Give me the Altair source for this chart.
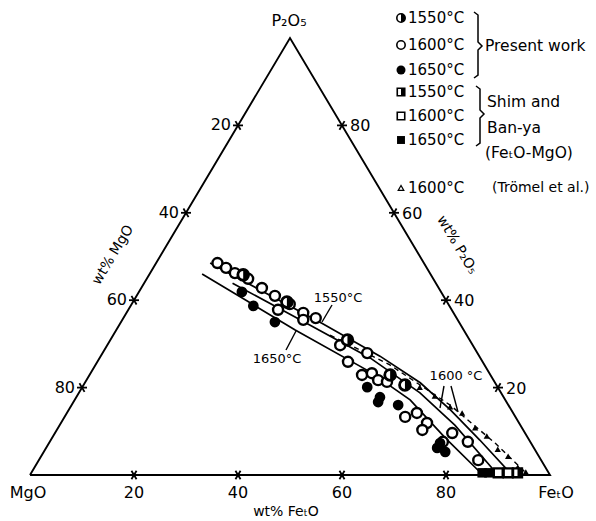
import altair as alt
import pandas as pd

# ---------------- data (wt%) ----------------
# boundary curves: wt% FetO and wt% P2O5
c1550_feo = [10.4, 39.0, 53.7, 64.5, 73.4, 82.5, 92.7]
c1550_p = [48.5, 34.6, 27.2, 21.1, 14.9, 8.0, 0.0]
c1600_feo = [17.0, 34.2, 52.0, 65.6, 76.0, 90.0]
c1600_p = [43.9, 35.5, 26.8, 18.8, 11.4, 0.0]
c1650_feo = [10.1, 34.4, 53.6, 64.5, 75.6, 87.1]
c1650_p = [46.0, 33.2, 23.6, 17.2, 8.5, 0.0]
trom_feo = [41.7, 56.6, 72.8, 85.8, 95.8]
trom_p = [32.0, 25.2, 16.0, 7.3, 0.0]

# present work
pw1550_feo = [18.1, 29.6, 45.6, 57.8, 61.8]
pw1550_p = [45.8, 39.6, 30.9, 22.9, 20.6]
pw1600_feo = [11.8, 14.0, 16.3, 19.5, 23.2, 26.6, 30.4, 34.0, 37.0, 28.8, 34.8, 44.8, 48.2,
              50.9, 52.4, 54.1, 56.1, 58.0, 65.5, 67.3, 70.4, 70.3, 75.6, 76.4, 80.4, 84.5]
pw1600_p = [48.5, 47.4, 46.2, 44.9, 42.8, 41.0, 39.1, 37.1, 35.9, 37.8, 35.5, 29.7, 25.9,
            27.9, 22.9, 23.3, 21.7, 21.3, 13.3, 14.2, 11.9, 10.3, 7.6, 9.6, 7.6, 3.4]
pw1650_feo = [23.6, 29.6, 19.8, 54.8, 58.4, 62.8, 75.2, 77.2, 75.2, 58.6]
pw1650_p = [38.7, 35.0, 41.9, 20.1, 17.8, 16.0, 7.3, 5.3, 6.2, 16.7]

# Shim and Ban-ya (FetO-MgO side)
sb1550_feo = [93.5]
sb1550_p = [0.5]
sb1600_feo = [89.8, 91.7]
sb1600_p = [0.5, 0.5]
sb1650_feo = [86.7, 88.0]
sb1650_p = [0.5, 0.5]

# Trömel et al. 1600 °C
tr_feo = [64.9, 68.8, 73.0, 76.0, 80.2, 83.4, 87.0, 89.8, 92.9, 95.0]
tr_p = [20.1, 18.1, 15.6, 14.2, 10.8, 8.9, 5.9, 4.3, 1.8, 0.7]

tick_values = [20, 40, 60, 80]
legend_labels = ["1550°C", "1600°C", "1650°C", "1550°C", "1600°C", "1650°C", "1600°C"]
legend_kinds = ["half_circle", "open_circle", "filled_circle",
                "half_square", "open_square", "filled_square", "open_triangle"]

# ---------------- geometry helpers ----------------
W, H = 596, 521
OX, OY = 30.0, 475.0        # MgO corner in pixels
SX, SY = 5.2, 4.37           # pixels per wt% (horizontal, vertical)
FONT = "DejaVu Sans"

XS = alt.Scale(domain=[-OX / SX, (W - OX) / SX], nice=False, zero=False)
YS = alt.Scale(domain=[(OY - H) / SY, OY / SY], nice=False, zero=False)


def cart(feo, p):
    return feo + p / 2.0, p


def inv(px, py):
    return (px - OX) / SX, (OY - py) / SY


def enc(extra=None):
    e = dict(x=alt.X("X:Q", scale=XS, axis=None), y=alt.Y("Y:Q", scale=YS, axis=None))
    if extra:
        e.update(extra)
    return e


def pts(feo, p):
    xs, ys = zip(*[cart(f, q) for f, q in zip(feo, p)])
    return pd.DataFrame({"X": xs, "Y": ys})


RIGHT_HALF_CIRCLE = "M0,-1 A1,1 0 0 1 0,1 Z"
RIGHT_HALF_SQUARE = "M0,-1 L1,-1 L1,1 L0,1 Z"


def symbol_layers(df, kind, size, sw):
    base = alt.Chart(df)
    layers = []
    if kind in ("open_circle", "half_circle"):
        layers.append(base.mark_point(shape="circle", filled=True, fill="white", stroke="black",
                                      strokeWidth=sw, size=size, opacity=1).encode(**enc()))
    if kind == "half_circle":
        layers.append(base.mark_point(shape=RIGHT_HALF_CIRCLE, filled=True, color="black",
                                      size=size, opacity=1).encode(**enc()))
    if kind == "filled_circle":
        layers.append(base.mark_point(shape="circle", filled=True, color="black",
                                      size=size * 1.15, opacity=1).encode(**enc()))
    if kind in ("open_square", "half_square"):
        layers.append(base.mark_point(shape="square", filled=True, fill="white", stroke="black",
                                      strokeWidth=sw, size=size * 0.8, opacity=1).encode(**enc()))
    if kind == "half_square":
        layers.append(base.mark_point(shape=RIGHT_HALF_SQUARE, filled=True, color="black",
                                      size=size * 0.8, opacity=1).encode(**enc()))
    if kind == "filled_square":
        layers.append(base.mark_point(shape="square", filled=True, color="black",
                                      size=size * 0.9, opacity=1).encode(**enc()))
    if kind == "open_triangle":
        layers.append(base.mark_point(shape="triangle-up", filled=True, fill="white", stroke="black",
                                      strokeWidth=1.2, size=size * 0.45, opacity=1).encode(**enc()))
    if kind == "filled_triangle":
        layers.append(base.mark_point(shape="triangle-up", filled=True, color="black",
                                      size=size, opacity=1).encode(**enc()))
    return layers


layers = []

# ---------------- triangle frame ----------------
frame_feo = [0, 100, 0, 0]
frame_p = [0, 0, 100, 0]
fdf = pts(frame_feo, frame_p)
fdf["o"] = range(len(fdf))
layers.append(alt.Chart(fdf).mark_line(color="black", strokeWidth=1.9).encode(
    **enc({"order": alt.Order("o:Q")})))

# ---------------- ticks ----------------
def dir_px(dx, dy, length):
    pl = ((dx * SX) ** 2 + (dy * SY) ** 2) ** 0.5
    return dx * length / pl, dy * length / pl

d_left = dir_px(50, 100, 5)    # parallel to MgO-P2O5 side
d_right = dir_px(50, -100, 5)  # parallel to P2O5-FetO side
d_hor = dir_px(1, 0, 5)        # parallel to base

rows = []
for v in tick_values:
    x, y = cart(v, 0)
    for d in (d_left, d_right):
        rows.append((x - d[0], y - d[1], x + d[0], y + d[1]))
    x, y = cart(0, 100 - v)
    for d in (d_hor, d_right):
        rows.append((x - d[0], y - d[1], x + d[0], y + d[1]))
    x, y = cart(100 - v, v)
    for d in (d_hor, d_left):
        rows.append((x - d[0], y - d[1], x + d[0], y + d[1]))
tdf = pd.DataFrame(rows, columns=["X", "Y", "X2", "Y2"])
layers.append(alt.Chart(tdf).mark_rule(color="black", strokeWidth=1.8).encode(
    **enc({"x2": "X2:Q", "y2": "Y2:Q"})))

# ---------------- curves ----------------
for feo, p, dash in [(c1550_feo, c1550_p, None), (c1600_feo, c1600_p, None),
                     (c1650_feo, c1650_p, None), (trom_feo, trom_p, [5, 4])]:
    cdf = pts(feo, p)
    cdf["o"] = range(len(cdf))
    kw = dict(color="black", strokeWidth=1.7)
    if dash:
        kw["strokeDash"] = dash
        kw["strokeWidth"] = 1.4
    layers.append(alt.Chart(cdf).mark_line(**kw).encode(**enc({"order": alt.Order("o:Q")})))

# leader lines for curve labels (pixel anchored annotations)
leaders_px = [(332, 305, 322, 322), (286, 350, 296, 331),
              (444, 386, 440, 408), (451, 386, 458, 412)]
lrows = []
for a, b, c, d in leaders_px:
    x1, y1 = inv(a, b)
    x2, y2 = inv(c, d)
    lrows.append((x1, y1, x2, y2))
ldf = pd.DataFrame(lrows, columns=["X", "Y", "X2", "Y2"])
layers.append(alt.Chart(ldf).mark_rule(color="black", strokeWidth=1.4).encode(
    **enc({"x2": "X2:Q", "y2": "Y2:Q"})))

# ---------------- data points ----------------
layers += symbol_layers(pts(tr_feo, tr_p), "filled_triangle", 40, 1.5)
layers += symbol_layers(pts(pw1600_feo, pw1600_p), "open_circle", 100, 2.4)
layers += symbol_layers(pts(pw1550_feo, pw1550_p), "half_circle", 115, 2.8)
layers += symbol_layers(pts(pw1650_feo, pw1650_p), "filled_circle", 100, 2.0)
layers += symbol_layers(pts(sb1600_feo, sb1600_p), "open_square", 100, 2.4)
layers += symbol_layers(pts(sb1650_feo, sb1650_p), "filled_square", 100, 2.0)
layers += symbol_layers(pts(sb1550_feo, sb1550_p), "half_square", 100, 2.4)

# ---------------- text helpers ----------------
def text_layer(items, size, align="center", angle=0, baseline="middle"):
    xs, ys, ts = [], [], []
    for px, py, t in items:
        x, y = inv(px, py)
        xs.append(x); ys.append(y); ts.append(t)
    df = pd.DataFrame({"X": xs, "Y": ys, "T": ts})
    kw = dict(font=FONT, fontSize=size, color="black", align=align, baseline=baseline)
    if angle:
        kw["angle"] = angle
    return alt.Chart(df).mark_text(**kw).encode(**enc({"text": "T:N"}))


tl_rows_b, tl_rows_l, tl_rows_r = [], [], []
for v in tick_values:
    x, y = cart(v, 0)
    tl_rows_b.append((x, y, str(v)))
    x, y = cart(0, 100 - v)
    tl_rows_l.append((x, y, str(v)))
    x, y = cart(100 - v, v)
    tl_rows_r.append((x, y, str(v)))


def tick_text(rows_, align, dx, dy):
    df = pd.DataFrame(rows_, columns=["X", "Y", "T"])
    return alt.Chart(df).mark_text(font=FONT, fontSize=16, color="black", align=align,
                                   baseline="middle", dx=dx, dy=dy).encode(**enc({"text": "T:N"}))

layers.append(tick_text(tl_rows_b, "center", 0, 18))
layers.append(tick_text(tl_rows_l, "right", -7, 0))
layers.append(tick_text(tl_rows_r, "left", 8, 1))

# corner labels and axis titles
layers.append(text_layer([(28, 493, "MgO"), (556, 493, "FeₜO"), (289, 21, "P₂O₅")], 16))
layers.append(text_layer([(286, 512, "wt% FeₜO")], 14))
layers.append(text_layer([(113, 255, "wt% MgO")], 14, angle=301))
layers.append(text_layer([(457, 245, "wt% P₂O₅")], 14, angle=59))

# curve labels
layers.append(text_layer([(338, 298, "1550°C"), (277, 359, "1650°C"), (456, 376, "1600 °C")], 13))

# ---------------- legend ----------------
leg_y = [18, 45, 70, 92, 116, 140, 188]
sym_x = 401
for kind, yy in zip(legend_kinds, leg_y):
    x, y = inv(sym_x, yy)
    sdf = pd.DataFrame({"X": [x], "Y": [y]})
    layers += symbol_layers(sdf, kind, 70, 1.6)
layers.append(text_layer([(408, yy, t) for t, yy in zip(legend_labels, leg_y)], 15, align="left"))
layers.append(text_layer([(485, 46, "Present work"), (487, 102, "Shim   and"),
                          (487, 128, "Ban-ya"), (485, 153, "(FeₜO-MgO)")], 15.5, align="left"))
layers.append(text_layer([(492, 188, "(Trömel et al.)")], 14, align="left"))


# braces
def brace(x, y0, y1, ym):
    return [(x - 4, y0), (x, y0 + 3), (x, ym - 4), (x + 4, ym), (x, ym + 4), (x, y1 - 3), (x - 4, y1)]

for b in [brace(478, 12, 78, 46), brace(480, 86, 146, 114)]:
    xs, ys = zip(*[inv(a, c) for a, c in b])
    bdf = pd.DataFrame({"X": xs, "Y": ys, "o": range(len(xs))})
    layers.append(alt.Chart(bdf).mark_line(color="black", strokeWidth=1.5).encode(
        **enc({"order": alt.Order("o:Q")})))

chart = alt.layer(*layers).properties(
    width=W, height=H, padding=0, autosize=alt.AutoSizeParams(type="none"),
    background="white"
).configure_view(strokeWidth=0)

chart.save("out.html", embed_options={"renderer": "svg", "actions": False})
